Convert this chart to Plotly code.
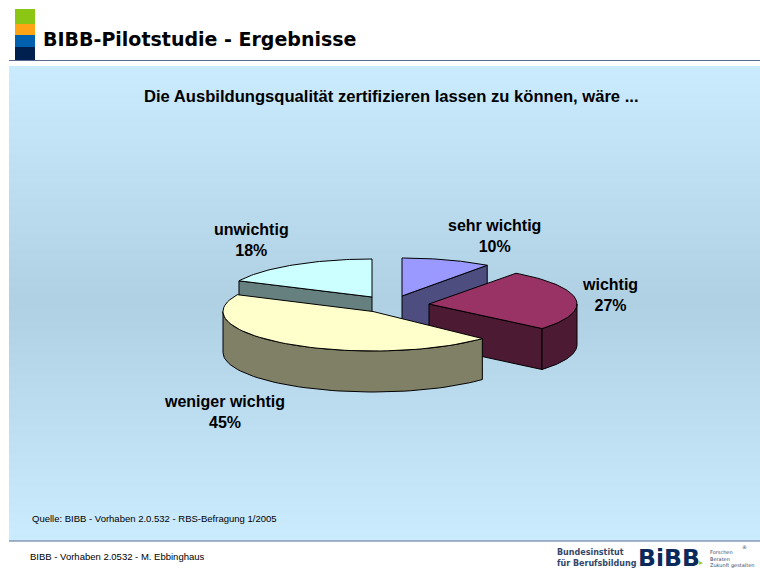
import numpy as np
import plotly.graph_objects as go

# ---- data ----
categories = ["sehr wichtig", "wichtig", "weniger wichtig", "unwichtig"]
shares = [10, 27, 45, 18]
top_colors = ["#9999FF", "#993366", "#FFFFCC", "#CCFFFF"]
side_colors = ["#4D4D80", "#4D1A33", "#808066", "#668080"]
# apex of each exploded slice, in page pixels
apex_x = [402, 429, 373, 372]
apex_y = [296, 304, 311.5, 297]
radius_x = [145, 148, 150, 147]
radius_y = [38, 38, 39.5, 38]
end_nudge = [0, -3, 0, 0]  # perspective of the original squeezes this edge
label_x = [494, 610, 224, 251]
label_y = [236, 295, 412, 240]

DEPTH = 41
W, H = 760, 572

fig = go.Figure()

# page furniture
shapes = []
n = 119
grad_top, grad_mid = np.array([0xCB, 0xEB, 0xFF]), np.array([0xB0, 0xD0, 0xE4])
for i in range(n):
    y0 = 66 + i * 4
    t = 1 - abs((y0 + 2) - 303) / 237
    t = max(0.0, min(1.0, t))
    c = grad_top + (grad_mid - grad_top) * t
    shapes.append(dict(type="rect", x0=9, x1=760, y0=y0, y1=min(y0 + 4.3, 541),
                       fillcolor=f"rgb({int(c[0])},{int(c[1])},{int(c[2])})",
                       line_width=0, layer="below"))
for y0, y1, col in [(9, 24, "#8CC615"), (24, 35, "#FFA515"), (35, 47, "#0060B0"), (47, 61, "#00204F")]:
    shapes.append(dict(type="rect", x0=15, x1=35, y0=y0, y1=y1, fillcolor=col, line_width=0))
for y in (60.5, 541):
    shapes.append(dict(type="line", x0=9, x1=760, y0=y, y1=y, line=dict(color="#5A6A8F", width=1)))


def add_poly(xs, ys, color):
    fig.add_trace(go.Scatter(x=xs, y=ys, mode="lines", fill="toself", fillcolor=color,
                             line=dict(color="#000000", width=1), hoverinfo="skip", showlegend=False))


def arc(i, a0, a1, dy=0.0):
    th = np.radians(np.linspace(a0, a1, 60))
    return apex_x[i] + radius_x[i] * np.sin(th), apex_y[i] - radius_y[i] * np.cos(th) + dy


# slice angle ranges from the shares
edges = np.cumsum([0] + shares) * 3.6
spans = [(edges[k], edges[k + 1] + end_nudge[k]) for k in range(len(shares))]

# paint order: back slices first
for i in [3, 0, 1, 2]:
    a0, a1 = spans[i]
    cx, cy = apex_x[i], apex_y[i]
    # visible cut face
    cut = a1 if a1 < 180 else a0
    if categories[i] != "weniger wichtig":
        ex, ey = arc(i, cut, cut)
        add_poly([cx, ex[0], ex[0], cx, cx], [cy, ey[0], ey[0] + DEPTH, cy + DEPTH, cy], side_colors[i])
    # outer wall, front half only
    f0, f1 = max(a0, 90), min(a1, 270)
    if f1 > f0:
        tx, ty = arc(i, f0, f1)
        bx, by = arc(i, f1, f0, DEPTH)
        add_poly(np.r_[tx, bx, tx[0]], np.r_[ty, by, ty[0]], side_colors[i])
    # top face
    tx, ty = arc(i, a0, a1)
    add_poly(np.r_[cx, tx, cx], np.r_[cy, ty, cy], top_colors[i])

ann = []
for name, share, x, y in zip(categories, shares, label_x, label_y):
    ann.append(dict(x=x, y=y, text=f"<b>{name}<br>{share}%</b>", showarrow=False,
                    font=dict(family="Liberation Sans", size=16, color="#000000"), align="center"))


def text(x, y, s, size, family="Liberation Sans", color="#000000", anchor="left"):
    ann.append(dict(x=x, y=y, text=s, showarrow=False, xanchor=anchor, yanchor="middle",
                    font=dict(family=family, size=size, color=color)))


text(41, 39, "<b>BIBB-Pilotstudie - Ergebnisse</b>", 19, "DejaVu Sans")
text(391.5, 96, "<b>Die Ausbildungsqualität zertifizieren lassen zu können, wäre ...</b>", 16.6, anchor="center")
text(30, 518, "Quelle: BIBB - Vorhaben 2.0.532 - RBS-Befragung 1/2005", 9.5)
text(28, 556, "BIBB - Vorhaben 2.0532 - M. Ebbinghaus", 9.5)
text(555, 552, "<b>Bundesinstitut</b>", 8, "DejaVu Sans", "#33476B")
text(555, 563, "<b>für Berufsbildung</b>", 8, "DejaVu Sans", "#33476B")
text(636, 558, "<b>BiBB</b>", 23.5, "DejaVu Sans", "#0B2A5B")
text(697, 562, "▸", 8, "DejaVu Sans", "#A8C62A")
text(708, 552, "Forschen", 5, "DejaVu Sans", "#33476B")
text(708, 559, "Beraten", 5, "DejaVu Sans", "#33476B")
text(708, 565.5, "Zukunft gestalten", 5, "DejaVu Sans", "#33476B")
text(740, 547, "®", 5, "DejaVu Sans", "#33476B")

fig.update_layout(
    width=W, height=H, margin=dict(l=0, r=0, t=0, b=0), showlegend=False,
    paper_bgcolor="#FFFFFF", plot_bgcolor="#FFFFFF", shapes=shapes, annotations=ann,
    xaxis=dict(range=[0, W], visible=False, fixedrange=True),
    yaxis=dict(range=[H, 0], visible=False, fixedrange=True),
)
fig.write_html("out.html", config={"displayModeBar": False},
               post_script="document.documentElement.style.margin='0';document.body.style.margin='0';document.body.style.overflow='hidden';")
